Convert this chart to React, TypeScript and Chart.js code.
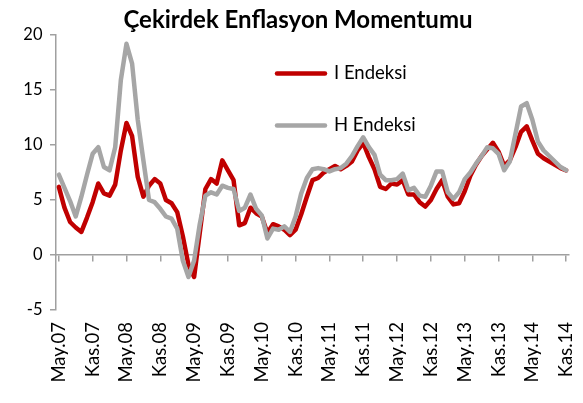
import React, { useEffect, useRef } from 'react';
import { Chart, registerables } from 'chart.js';

Chart.register(...registerables);

const TITLE = 'Çekirdek Enflasyon Momentumu';
const FONT = 'Lato, "Open Sans", sans-serif';

// Turkish month abbreviations; series runs monthly May 2007 – Nov 2014
const MONTHS = ['Oca', 'Şub', 'Mar', 'Nis', 'May', 'Haz', 'Tem', 'Ağu', 'Eyl', 'Eki', 'Kas', 'Ara'];
const START_YEAR = 2007;
const START_MONTH = 4; // May
const MONTH_COUNT = 91;
const categories: string[] = Array.from({ length: MONTH_COUNT }, (_, k) => {
  const m = START_MONTH + k;
  const y = START_YEAR + Math.floor(m / 12);
  return `${MONTHS[m % 12]}.${String(y % 100).padStart(2, '0')}`;
});

const LABEL_EVERY = 6;

const seriesNames = ['I Endeksi', 'H Endeksi'];

const iEndeksi = [
  6.2, 4.3, 3.0, 2.5, 2.1, 3.4, 4.8, 6.5, 5.6, 5.4,
  6.4, 9.5, 12.0, 10.8, 7.1, 5.3, 6.3, 6.9, 6.5, 5.0,
  4.7, 3.9, 1.7, -0.9, -2.0, 2.0, 6.0, 6.9, 6.5, 8.6,
  7.7, 6.8, 2.7, 2.9, 4.3, 3.8, 3.5, 2.0, 2.8, 2.6,
  2.3, 1.8, 2.3, 3.7, 5.3, 6.8, 7.0, 7.5, 7.8, 8.1,
  7.8, 8.1, 8.5, 9.5, 10.2, 8.9, 7.8, 6.2, 6.0, 6.5,
  6.4, 6.8, 5.5, 5.5, 4.8, 4.4, 5.0, 6.0, 6.8, 5.3,
  4.6, 4.7, 5.8, 7.2, 8.2, 9.0, 9.6, 10.2, 9.4, 8.1,
  8.6, 9.8, 11.2, 11.7, 10.4, 9.2, 8.8, 8.5, 8.2, 7.9,
  7.7,
];

const hEndeksi = [
  7.3, 6.1, 4.9, 3.5, 5.3, 7.3, 9.2, 9.8, 8.0, 7.7,
  9.8, 15.9, 19.2, 17.4, 12.3, 8.6, 5.0, 4.8, 4.2, 3.5,
  3.3, 2.4, -0.5, -2.0, -0.5, 2.8, 5.4, 5.7, 5.5, 6.3,
  6.1, 6.0, 4.0, 4.3, 5.5, 4.2, 3.6, 1.5, 2.4, 2.3,
  2.6, 2.1, 3.5, 5.6, 7.0, 7.8, 7.9, 7.8, 7.6, 7.8,
  7.9, 8.3, 9.0, 9.9, 10.7, 9.8, 9.1, 7.3, 6.8, 6.8,
  6.9, 7.4, 5.9, 6.1, 5.4, 5.3, 6.3, 7.6, 7.6, 5.7,
  5.1, 5.7, 6.9, 7.5, 8.3, 9.0, 9.8, 9.7, 9.2, 7.7,
  8.5, 11.0, 13.5, 13.8, 12.3, 10.3, 9.5, 9.0, 8.5, 8.0,
  7.7,
];

const Y_MIN = -5;
const Y_MAX = 20;
const Y_STEP = 5;

const RED = '#C00000';
const GRAY = '#A6A6A6';
const AXIS = '#A0A0A0';

const insideLegend = {
  id: 'insideLegend',
  afterDraw(chart: any, _args: any, opts: any) {
    const { ctx, chartArea } = chart;
    ctx.save();
    ctx.font = `${opts.fontSize}px ${FONT}`;
    ctx.textBaseline = 'middle';
    ctx.textAlign = 'left';
    ctx.fillStyle = '#000';
    chart.data.datasets.forEach((ds: any, k: number) => {
      const y = chartArea.top + opts.top + k * opts.rowGap;
      const x0 = chartArea.left + opts.left;
      ctx.strokeStyle = ds.borderColor;
      ctx.lineWidth = ds.borderWidth;
      ctx.lineCap = 'round';
      ctx.beginPath();
      ctx.moveTo(x0, y);
      ctx.lineTo(x0 + opts.lineLen, y);
      ctx.stroke();
      ctx.fillText(ds.label, x0 + opts.lineLen + opts.gap, y);
    });
    ctx.restore();
  },
};

export default function App() {
  const canvasRef = useRef<HTMLCanvasElement | null>(null);

  useEffect(() => {
    if (!canvasRef.current) return;
    const chart = new Chart(canvasRef.current, {
      type: 'line',
      data: {
        labels: categories,
        datasets: [
          {
            label: seriesNames[0],
            data: iEndeksi,
            borderColor: RED,
            backgroundColor: RED,
            borderWidth: 4.5,
            pointRadius: 0,
            order: 1,
            xAxisID: 'x',
            yAxisID: 'y',
          },
          {
            label: seriesNames[1],
            data: hEndeksi,
            borderColor: GRAY,
            backgroundColor: GRAY,
            borderWidth: 4.5,
            pointRadius: 0,
            order: 0,
            xAxisID: 'x',
            yAxisID: 'y',
          },
        ],
      },
      options: {
        animation: false,
        responsive: true,
        maintainAspectRatio: false,
        layout: { padding: { left: 13, right: 0, top: 0, bottom: 0 } },
        elements: {
          line: { tension: 0, borderJoinStyle: 'round', borderCapStyle: 'round' },
          point: { radius: 0 },
        },
        plugins: {
          legend: { display: false },
          tooltip: { enabled: false },
          title: {
            display: true,
            text: TITLE,
            color: '#000',
            font: { family: FONT, size: 24, weight: 'bold', lineHeight: 1 },
            padding: { top: 0, bottom: 3 },
          },
          insideLegend: { fontSize: 18.5, left: 221, top: 38.5, rowGap: 52, lineLen: 48, gap: 9 },
        } as any,
        scales: {
          x: {
            type: 'category',
            offset: true,
            grid: { display: false, drawTicks: false },
            border: { display: false },
            ticks: {
              autoSkip: false,
              minRotation: 90,
              maxRotation: 90,
              padding: 12,
              color: '#000',
              font: { family: FONT, size: 18.5 },
              callback: (_v: any, i: number) => (i % LABEL_EVERY === 0 ? categories[i] : ''),
            },
            afterFit: (s: any) => {
              s.height = 85;
              s.paddingLeft = 0;
              s.paddingRight = 6;
            },
          },
          x2: {
            type: 'category',
            position: { y: 0 },
            offset: true,
            ticks: { display: false, autoSkip: false },
            grid: {
              drawOnChartArea: false,
              drawTicks: true,
              tickLength: 6,
              lineWidth: 1.5,
              color: (c: any) => (typeof c.index === 'number' && c.index % LABEL_EVERY === 0 ? AXIS : 'rgba(0,0,0,0)'),
            },
            border: { display: true, color: AXIS, width: 1.5 },
            afterFit: (s: any) => {
              s.paddingLeft = 0;
              s.paddingRight = 0;
            },
          },
          y: {
            min: Y_MIN,
            max: Y_MAX,
            ticks: {
              stepSize: Y_STEP,
              padding: 7.5,
              color: '#000',
              font: { family: FONT, size: 16.5 },
            },
            grid: { drawOnChartArea: false, tickLength: 6, color: AXIS, lineWidth: 1.5 },
            border: { display: true, color: AXIS, width: 1.5 },
            afterFit: (s: any) => {
              s.width = 35;
            },
          },
        } as any,
      },
      plugins: [insideLegend],
    });
    return () => chart.destroy();
  }, []);

  return (
    <div style={{ width: '567px', height: '387px', position: 'relative' }}>
      <canvas ref={canvasRef} />
    </div>
  );
}
